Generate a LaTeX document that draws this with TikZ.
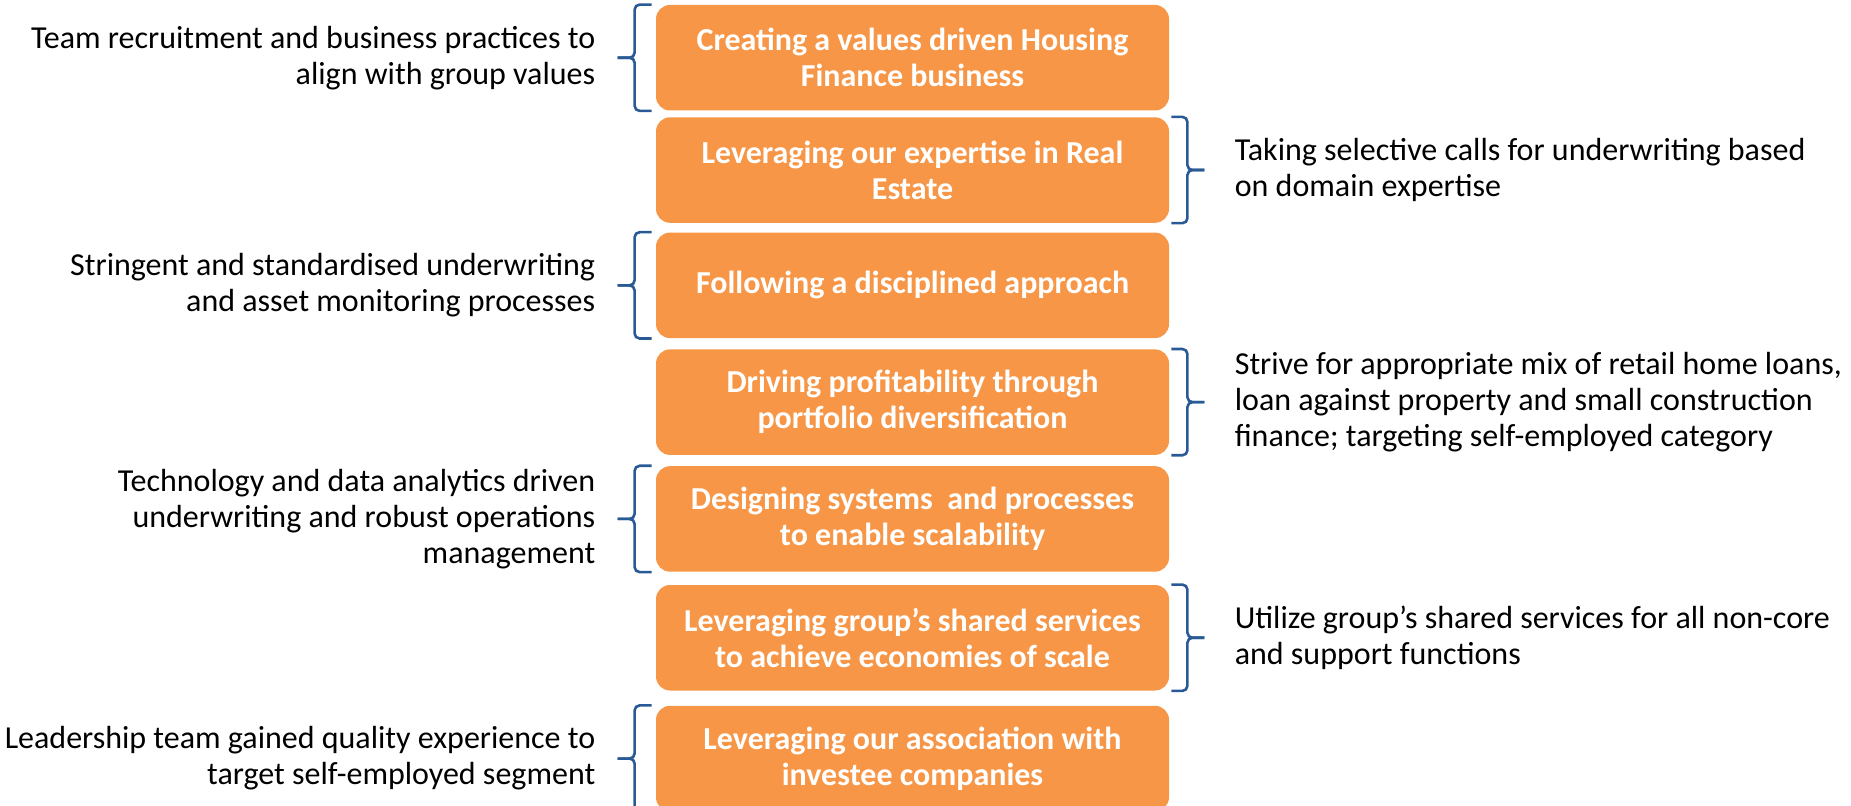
\documentclass[tikz,border=0pt]{standalone}
\usepackage{fontspec}
\setmainfont{Carlito}
\usetikzlibrary{positioning}

\definecolor{boxorange}{HTML}{F79646}
\definecolor{braceblue}{HTML}{2A5A96}

% curly bracket on the left / right side of a box
\newcommand{\bracel}[1]{%
  \draw[bracepen] ([xshift=-2pt]#1.north west) -- ++(-8.5pt,0) |- ([xshift=-19pt]#1.west);
  \draw[bracepen] ([xshift=-2pt]#1.south west) -- ++(-8.5pt,0) |- ([xshift=-19pt]#1.west);}
\newcommand{\bracer}[1]{%
  \draw[bracepen] ([xshift=1pt]#1.north east) -- ++(8pt,0) |- ([xshift=17.5pt]#1.east);
  \draw[bracepen] ([xshift=1pt]#1.south east) -- ++(8pt,0) |- ([xshift=17.5pt]#1.east);}

\begin{document}
\begin{tikzpicture}[
    x=0.5pt, y=-0.5pt,
    node distance=5pt and 30pt,
    pillar/.style={rectangle, rounded corners=7pt, fill=boxorange, text=white, align=center,
      minimum width=256.5pt, minimum height=52.75pt, inner sep=0pt,
      font=\fontsize{16}{18}\selectfont\bfseries},
    lnote/.style={align=right, inner sep=0pt, font=\fontsize{16}{18}\selectfont},
    rnote/.style={align=left, inner sep=0pt, font=\fontsize{16}{18}\selectfont},
    bracepen/.style={draw=braceblue, line width=1.3pt, rounded corners=2.5pt}
]
\useasboundingbox (0,0) rectangle (1851,806);

% the seven boxes, top to bottom (gaps widen a little going down)
\node[pillar] (values) at (912.5,57.75) {Creating a values driven Housing\\Finance business};
\node[pillar, below=3pt of values] (realestate) {Leveraging our expertise in Real\\Estate};
\node[pillar, below=4.5pt of realestate] (discipline) {Following a disciplined approach};
\node[pillar, below=5.25pt of discipline] (profit) {Driving profitability through\\portfolio diversification};
\node[pillar, below=5.25pt of profit] (systems) {Designing systems\ \ and processes\\to enable scalability};
\node[pillar, below=6.25pt of systems] (shared) {Leveraging group’s shared services\\to achieve economies of scale};
\node[pillar, below=7.25pt of shared] (investee) {Leveraging our association with\\investee companies};

% notes on the left
\node[lnote, left=of values] (n_values) {Team recruitment and business practices to\\align with group values};
\node[lnote, left=of discipline] (n_discipline) {Stringent and standardised underwriting\\and asset monitoring processes};
\node[lnote, left=of systems] (n_systems) {Technology and data analytics driven\\underwriting and robust operations\\management};
\node[lnote, left=of investee] (n_investee) {Leadership team gained quality experience to\\target self-employed segment};

% notes on the right
\node[rnote, right=32.5pt of realestate] (n_realestate) {Taking selective calls for underwriting based\\on domain expertise};
\node[rnote, right=32.5pt of profit] (n_profit) {Strive for appropriate mix of retail home loans,\\loan against property and small construction\\finance; targeting self-employed category};
\node[rnote, right=32.5pt of shared] (n_shared) {Utilize group’s shared services for all non-core\\and support functions};

% brackets
\bracel{values}
\bracel{discipline}
\bracel{systems}
\bracel{investee}
\bracer{realestate}
\bracer{profit}
\bracer{shared}

\end{tikzpicture}
\end{document}
